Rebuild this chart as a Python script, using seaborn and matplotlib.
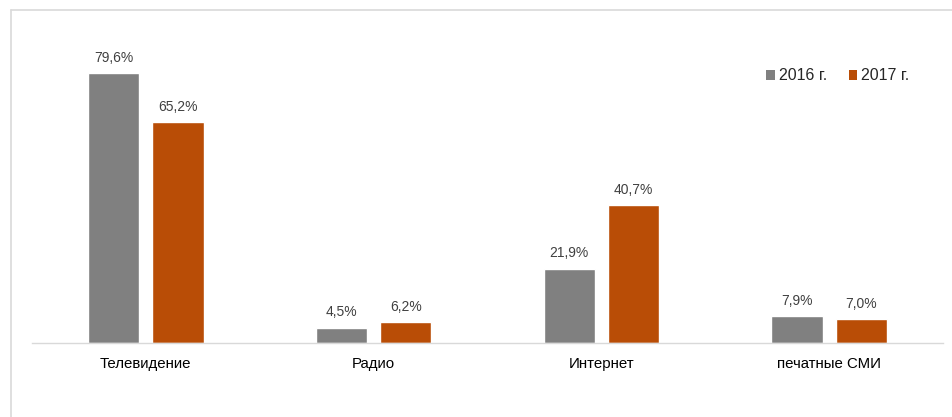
import matplotlib
matplotlib.use("Agg")
import matplotlib.pyplot as plt
from matplotlib.lines import Line2D
from matplotlib.patches import Patch
import seaborn as sns
import pandas as pd

categories = ["Телевидение", "Радио", "Интернет", "печатные СМИ"]
years = ["2016 г.", "2017 г."]
values_2016 = [79.6, 4.5, 21.9, 7.9]
values_2017 = [65.2, 6.2, 40.7, 7.0]
colors = ["#808080", "#B94D06"]

df = pd.DataFrame({
    "cat": categories * 2,
    "year": [years[0]] * 4 + [years[1]] * 4,
    "val": values_2016 + values_2017,
})

sns.set_theme(style="white")
plt.rcParams["font.family"] = ["Liberation Sans", "DejaVu Sans"]

W, H = 952, 417
fig = plt.figure(figsize=(W / 100, H / 100), dpi=100)
ax = fig.add_axes([32 / W, 1 - 343 / H, (943 - 32) / W, (343 - 20) / H])

sns.barplot(data=df, x="cat", y="val", hue="year", order=categories,
            hue_order=years, palette=colors, width=0.5627, gap=0.2,
            ax=ax, legend=False, saturation=1, errorbar=None)

ax.set_ylim(0, (343 - 20) / 3.39)
ax.set_xlim(-0.5, 3.5)
ax.set_xlabel("")
ax.set_ylabel("")
ax.set_yticks([])
for s in ["top", "left", "right"]:
    ax.spines[s].set_visible(False)
ax.spines["bottom"].set_color("#D9D9D9")
ax.spines["bottom"].set_linewidth(1.0)
ax.tick_params(axis="x", length=0, pad=10, labelsize=10.8, labelcolor="#000000")

for cont in ax.containers:
    labels = [f"{v:.1f}%".replace(".", ",") for v in cont.datavalues]
    ax.bar_label(cont, labels=labels, padding=6, fontsize=10, color="#404040")

handles = [Patch(facecolor=c, edgecolor="none") for c in colors]
leg = fig.legend(handles, years, loc="center left",
                 bbox_to_anchor=(766 / W, 1 - 76 / H), ncol=2, frameon=False,
                 fontsize=11.5, handlelength=0.55, handleheight=0.55,
                 handletextpad=0.25, columnspacing=1.35, borderaxespad=0,
                 borderpad=0)

# outer frame (top and left lines)
fig.add_artist(Line2D([11 / W, 1], [1 - 10 / H, 1 - 10 / H], color="#D9D9D9", lw=1.2))
fig.add_artist(Line2D([11 / W, 11 / W], [0, 1 - 10 / H], color="#D9D9D9", lw=1.2))

fig.savefig("out.png", dpi=100, facecolor="white")
